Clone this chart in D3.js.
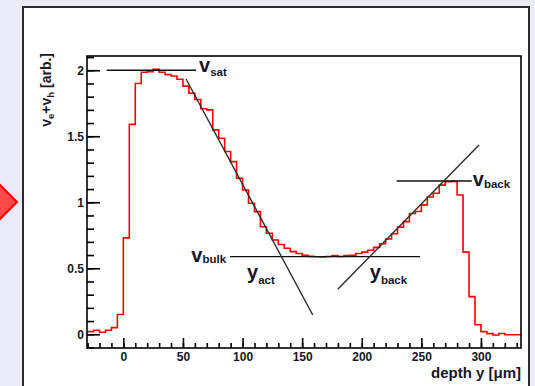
<!DOCTYPE html>
<html>
<head>
<meta charset="utf-8">
<script src="https://cdn.jsdelivr.net/npm/d3@7"></script>
<style>
  html, body { margin: 0; padding: 0; background: #ebebf8; }
  svg { display: block; }
  text { font-family: "Liberation Sans", Arial, Helvetica, sans-serif; }
</style>
</head>
<body>
<svg id="chart" width="535" height="386"></svg>
<script>
// Lower edges of the 5 µm depth bins [µm]
const depthBins = [
  -30, -25, -20, -15, -10, -5, 0, 5, 10, 15, 20, 25, 30, 35, 40, 45, 50, 55, 60, 65,
  70, 75, 80, 85, 90, 95, 100, 105, 110, 115, 120, 125, 130, 135, 140, 145, 150, 155,
  160, 165, 170, 175, 180, 185, 190, 195, 200, 205, 210, 215, 220, 225, 230, 235, 240,
  245, 250, 255, 260, 265, 270, 275, 280, 285, 290, 295, 300, 305, 310, 315, 320, 325, 330
];
const binWidth = 5;
// Summed drift velocity v_e + v_h per bin [arb.]
const signal = [
  0.02, 0.03, 0.015, 0.03, 0.05, 0.15, 0.73, 1.59, 1.90, 1.985, 1.99, 2.008, 1.985, 1.967,
  1.957, 1.932, 1.88, 1.826, 1.778, 1.708, 1.70, 1.548, 1.485, 1.384, 1.308, 1.182, 1.093,
  0.992, 0.929, 0.815, 0.765, 0.714, 0.68, 0.652, 0.626, 0.612, 0.598, 0.59, 0.587, 0.586,
  0.589, 0.597, 0.589, 0.596, 0.598, 0.612, 0.622, 0.636, 0.658, 0.686, 0.722, 0.762,
  0.812, 0.853, 0.915, 0.93, 0.98, 1.04, 1.068, 1.13, 1.156, 1.158, 1.055, 0.622, 0.285,
  0.072, 0.02, 0.005, -0.005, 0.006, -0.004, -0.004, -0.004
];

const xTickValues = [0, 50, 100, 150, 200, 250, 300];
const xTickLabels = ["0", "50", "100", "150", "200", "250", "300"];
const yTickValues = [0, 0.5, 1, 1.5, 2];
const yTickLabels = ["0", "0.5", "1", "1.5", "2"];

// Plateau levels: value and depth span of each horizontal guide
const levelNames  = ["sat", "bulk", "back"];
const levelValues = [2.0, 0.588, 1.161];
const levelFrom   = [-14, 89.5, 229.3];
const levelTo     = [61, 249, 292.3];

// Linear fits to the falling and rising flanks (depth, value) end points
const actFit  = [[52.6, 1.934], [158.9, 0.146]];
const backFit = [[179.9, 0.341], [298.4, 1.434]];

const svg = d3.select("#chart");

// ---- page decoration: pointer arrow and white panel ----
svg.append("polygon")
  .attr("points", "-40,145 17,202 -40,259")
  .attr("fill", "#ff4a4a")
  .attr("stroke", "#f00000")
  .attr("stroke-width", 2);

svg.append("rect")
  .attr("x", 23).attr("y", 7)
  .attr("width", 506).attr("height", 400)
  .attr("fill", "#ffffff")
  .attr("stroke", "#2a2a2a")
  .attr("stroke-width", 2);

// ---- plot frame ----
const frame = { left: 87, top: 56, right: 521, bottom: 348 };
const x = d3.scaleLinear().domain([-30.5, 333.6]).range([frame.left, frame.right]);
const y = d3.scaleLinear().domain([-0.104, 2.108]).range([frame.bottom, frame.top]);

svg.append("clipPath").attr("id", "plotClip")
  .append("rect")
  .attr("x", frame.left).attr("y", frame.top)
  .attr("width", frame.right - frame.left)
  .attr("height", frame.bottom - frame.top);

const inkColor = "#161628";

// ---- axes (ticks drawn inward) ----
const minorY = d3.range(-0.1, 2.101, 0.1);
const minorX = d3.range(-30, 334, 10);

function styleAxis(g) {
  g.select(".domain").remove();
  g.selectAll(".tick line").attr("stroke", "#000").attr("stroke-width", 1.6);
  g.selectAll(".tick text")
    .attr("fill", inkColor)
    .attr("font-size", 12)
    .attr("font-weight", "bold");
}

svg.append("g")
  .attr("transform", `translate(${frame.left},0)`)
  .call(d3.axisLeft(y).tickValues(minorY).tickSize(-7).tickFormat(""))
  .call(styleAxis);
svg.append("g")
  .attr("transform", `translate(${frame.left},0)`)
  .call(d3.axisLeft(y).tickValues(yTickValues).tickSize(-13).tickPadding(3)
    .tickFormat((d, i) => yTickLabels[i]))
  .call(styleAxis);

svg.append("g")
  .attr("transform", `translate(0,${frame.bottom})`)
  .call(d3.axisBottom(x).tickValues(minorX).tickSize(-5).tickFormat(""))
  .call(styleAxis);
svg.append("g")
  .attr("transform", `translate(0,${frame.bottom})`)
  .call(d3.axisBottom(x).tickValues(xTickValues).tickSize(-10).tickPadding(4)
    .tickFormat((d, i) => xTickLabels[i]))
  .call(styleAxis);

// ---- histogram ----
const stepPoints = depthBins.map((d, i) => [d, signal[i]]);
stepPoints.push([depthBins[depthBins.length - 1] + binWidth, signal[signal.length - 1]]);

const stepLine = d3.line()
  .x(d => x(d[0]))
  .y(d => y(d[1]))
  .curve(d3.curveStepAfter);

svg.append("path")
  .attr("clip-path", "url(#plotClip)")
  .attr("d", stepLine(stepPoints))
  .attr("fill", "none")
  .attr("stroke", "#ff0000")
  .attr("stroke-width", 1.6);

// ---- guide lines ----
const straight = d3.line().x(d => x(d[0])).y(d => y(d[1]));

levelNames.forEach((name, i) => {
  svg.append("path")
    .attr("d", straight([[levelFrom[i], levelValues[i]], [levelTo[i], levelValues[i]]]))
    .attr("stroke", "#111")
    .attr("stroke-width", 1.4)
    .attr("fill", "none");
});

[actFit, backFit].forEach(fit => {
  svg.append("path")
    .attr("d", straight(fit))
    .attr("stroke", "#2c2c2c")
    .attr("stroke-width", 1.4)
    .attr("fill", "none");
});

// ---- frame on top ----
svg.append("rect")
  .attr("x", frame.left).attr("y", frame.top)
  .attr("width", frame.right - frame.left)
  .attr("height", frame.bottom - frame.top)
  .attr("fill", "none")
  .attr("stroke", "#000")
  .attr("stroke-width", 1.6);

// ---- annotations: symbol with subscript ----
function symbolLabel(px, py, main, sub, anchor, subShift) {
  const t = svg.append("text")
    .attr("x", px).attr("y", py)
    .attr("fill", inkColor)
    .attr("font-weight", "bold")
    .attr("text-anchor", anchor || "start");
  t.append("tspan").attr("font-size", 20).text(main);
  t.append("tspan").attr("font-size", 11.5).attr("dy", subShift).text(sub);
}

// v_sat right of its guide, v_bulk left of its guide, v_back right of its guide
symbolLabel(x(levelTo[0]) + 3, y(levelValues[0]) + 1.5, "v", "sat", "start", 4);
symbolLabel(x(levelFrom[1]) - 4, y(levelValues[1]) + 5, "v", "bulk", "end", 1);
symbolLabel(x(levelTo[2]) + 1, y(levelValues[2]) + 4.6, "v", "back", "start", 2.6);
// depth markers below the bulk level
symbolLabel(x(actFit[0][0]) + 61, y(levelValues[1]) + 22, "y", "act", "start", 5);
symbolLabel(x(backFit[0][0]) + 32, y(levelValues[1]) + 22, "y", "back", "start", 5);

// ---- axis titles ----
svg.append("text")
  .attr("x", frame.right).attr("y", 378)
  .attr("text-anchor", "end")
  .attr("fill", inkColor)
  .attr("font-size", 15)
  .attr("font-weight", "bold")
  .text("depth y [\u03bcm]");

const yTitle = svg.append("text")
  .attr("transform", "translate(51,53) rotate(-90)")
  .attr("text-anchor", "end")
  .attr("fill", inkColor)
  .attr("font-size", 14)
  .attr("font-weight", "bold");
yTitle.append("tspan").text("v");
yTitle.append("tspan").attr("font-size", 9.5).attr("dy", 3).text("e");
yTitle.append("tspan").attr("dy", -3).text("+v");
yTitle.append("tspan").attr("font-size", 9.5).attr("dy", 3).text("h");
yTitle.append("tspan").attr("dy", -3).text(" [arb.]");
</script>
</body>
</html>
